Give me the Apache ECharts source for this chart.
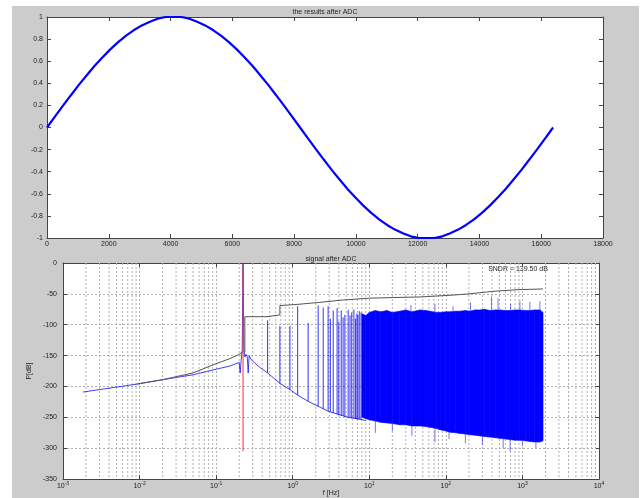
<!DOCTYPE html>
<html>
<head>
<meta charset="utf-8">
<script src="https://cdn.jsdelivr.net/npm/echarts@6/dist/echarts.min.js"></script>
<style>
  html, body { margin: 0; padding: 0; background: #fff; }
  #bg { position: absolute; left: 12px; top: 6px; width: 627px; height: 492px; background: #cccccc; }
  #app { position: absolute; left: 0; top: 0; width: 643px; height: 498px; }
</style>
</head>
<body>
<div id="bg"></div>
<div id="app"></div>
<script>
// top plot: samples after the ADC
const sampleIdx = [0, 256, 512, 768, 1024, 1280, 1536, 1792, 2048, 2304, 2560, 2816, 3072, 3328, 3584, 3840,
  4096, 4352, 4608, 4864, 5120, 5376, 5632, 5888, 6144, 6400, 6656, 6912, 7168, 7424, 7680, 7936,
  8192, 8448, 8704, 8960, 9216, 9472, 9728, 9984, 10240, 10496, 10752, 11008, 11264, 11520, 11776, 12032,
  12288, 12544, 12800, 13056, 13312, 13568, 13824, 14080, 14336, 14592, 14848, 15104, 15360, 15616, 15872, 16128, 16384];
const sampleVal = [0, 0.098, 0.195, 0.290, 0.383, 0.471, 0.556, 0.634, 0.707, 0.773, 0.831, 0.882, 0.924, 0.957, 0.985, 1,
  1, 1, 0.985, 0.957, 0.924, 0.882, 0.831, 0.773, 0.707, 0.634, 0.556, 0.471, 0.383, 0.290, 0.195, 0.098,
  0, -0.098, -0.195, -0.290, -0.383, -0.471, -0.556, -0.634, -0.707, -0.773, -0.831, -0.882, -0.924, -0.957, -0.985, -1,
  -1, -1, -0.985, -0.957, -0.924, -0.882, -0.831, -0.773, -0.707, -0.634, -0.556, -0.471, -0.383, -0.290, -0.195, -0.098, 0];

// bottom plot: spectrum, f in Hz, P in dB
const blueF = [0.00182, 0.003, 0.005, 0.0093, 0.02, 0.05, 0.1, 0.15, 0.2, 0.206, 0.212, 0.219, 0.2245, 0.23, 0.238, 0.245,
  0.255, 0.262, 0.27, 0.285, 0.32, 0.38, 0.47, 0.68, 0.92, 1.16, 1.59, 2.15, 2.9, 3.9, 5.3, 7.4, 9];
const blueP = [-209, -205, -201, -196, -189, -181, -172, -167, -161, -178, -158, -140, 0, -140, -152, -148,
  -152, -178, -150, -156, -162, -170, -178, -195, -205, -214, -224, -232, -240, -245, -250, -253, -255];

// harmonics between the tone and the noise band
const harmF = [0.47, 0.68, 0.92, 1.16, 1.59, 2.15, 2.5, 2.9, 3.1, 3.38, 3.8, 4.0, 4.3, 4.55, 4.8, 5.3, 5.6, 5.9, 6.3, 6.6, 6.9, 7.1, 7.4, 7.8];
const harmBase = [-178, -195, -205, -214, -224, -232, -236, -240, -241, -243, -245, -246, -247, -248, -249, -250, -251, -251, -252, -252, -253, -253, -253, -254];
const harmTop = [-93, -102, -102, -70, -97, -69, -72, -70, -90, -77, -73, -95, -77, -88, -84, -76, -85, -80, -75, -90, -82, -84, -78, -80];

// shaped noise band
const bandF = [8, 9, 10, 12, 14, 17, 20, 25, 30, 36, 46, 55, 62, 75, 84, 100, 113, 135, 153, 180, 206, 240, 279, 320,
  376, 440, 509, 600, 687, 800, 927, 1100, 1252, 1450, 1690, 1858];
const bandTop = [-82, -85, -80, -77, -79, -77, -80, -78, -76, -79, -76, -77, -78, -80, -80, -79, -79, -78, -78, -77, -78, -76, -76, -75,
  -77, -76, -76, -77, -77, -76, -76, -77, -77, -76, -76, -80];
const bandLow = [-250, -252, -254, -256, -258, -259, -260, -262, -262, -264, -264, -265, -266, -268, -270, -272, -274, -275, -276, -277, -278, -279, -280, -281,
  -282, -283, -284, -285, -286, -287, -287, -288, -289, -290, -290, -288];

// single peaks above and dips below the band
const peakF = [35, 72, 124, 210, 394, 480, 700, 927, 1250, 1690];
const peakP = [-68, -66, -70, -64, -55, -57, -66, -61, -63, -62];
const dipF = [12, 20, 36, 72, 110, 180, 300, 560, 690, 1000, 1500];
const dipP = [-275, -272, -280, -290, -285, -292, -295, -300, -305, -296, -300];

// black curve
const blackF = [0.0093, 0.02, 0.05, 0.1, 0.15, 0.2, 0.22, 0.237, 0.237, 0.46, 0.46, 0.68, 0.68, 1.16, 2.15, 4.5,
  10, 20, 46, 124, 200, 340, 400, 927, 1000, 1858];
const blackP = [-196, -189, -178, -163, -155, -148, -144, -144, -87, -87, -84, -84, -69, -67, -64, -60,
  -57, -56, -55, -52, -50, -47, -46, -43, -43, -42];

// input tone marker
const toneF = 0.2245;
const toneTop = 0;
const toneLow = -305;

const decades = [0.001, 0.01, 0.1, 1, 10, 100, 1000];
const minorMult = [2, 3, 4, 5, 6, 7, 8, 9];

(function () {
  const font = "'Liberation Sans', Arial, sans-serif";
  const frame = { lineStyle: { color: '#444', width: 1 }, onZero: false };
  const gridLine = { show: true, lineStyle: { color: '#b0b0b0', type: [2, 2], width: 1 } };
  const lbl = { fontFamily: font, fontSize: 7, color: '#222' };

  const zip = (a, b) => a.map((v, i) => [v, b[i]]);

  // minor log grid lines as broken vertical segments, drawn under the spectrum
  let minorData = [];
  decades.forEach(d => minorMult.forEach(m => {
    const f = +(d * m).toPrecision(3);
    minorData.push([f, 0], [f, -350], [f, '-']);
  }));

  let harmData = [];
  harmF.forEach((f, i) => { harmData.push([f, harmBase[i]], [f, harmTop[i]], [f, '-']); });

  // peaks start from the band top, dips from the band bottom
  const nearest = (f, arr) => {
    let best = 0;
    bandF.forEach((b, i) => { if (Math.abs(Math.log(b / f)) < Math.abs(Math.log(bandF[best] / f))) best = i; });
    return arr[best];
  };
  let edgeData = [];
  peakF.forEach((f, i) => { edgeData.push([f, nearest(f, bandTop)], [f, peakP[i]], [f, '-']); });
  dipF.forEach((f, i) => { edgeData.push([f, nearest(f, bandLow)], [f, dipP[i]], [f, '-']); });

  var myChart = echarts.init(document.getElementById('app'));

  let option = {
    animation: false,
    textStyle: { fontFamily: font },
    grid: [
      { left: 47, top: 17, width: 556, height: 221, show: true, backgroundColor: '#fff', borderWidth: 0 },
      { left: 63, top: 263, width: 536, height: 224, show: true, backgroundColor: '#fff', borderWidth: 0 }
    ],
    graphic: [
      { type: 'text', x: 325, y: 12, style: { text: 'the results after ADC', fontFamily: font, fontSize: 7, fill: '#222', align: 'center', verticalAlign: 'middle' } },
      { type: 'text', x: 331, y: 259, style: { text: 'signal after ADC', fontFamily: font, fontSize: 7, fill: '#222', align: 'center', verticalAlign: 'middle' } },
      { type: 'text', x: 518, y: 269, style: { text: 'SNDR = 139.50 dB', fontFamily: font, fontSize: 7, fill: '#222', align: 'center', verticalAlign: 'middle' } }
    ],
    xAxis: [
      {
        gridIndex: 0, type: 'value', min: 0, max: 18000, interval: 2000,
        axisLine: frame, axisTick: { inside: true, length: 4, lineStyle: { color: '#444' } },
        axisLabel: Object.assign({ margin: 3, formatter: v => String(v) }, lbl), splitLine: { show: false }
      },
      {
        gridIndex: 0, type: 'value', position: 'top', min: 0, max: 18000, interval: 2000,
        axisLine: frame, axisTick: { inside: true, length: 4, lineStyle: { color: '#444' } },
        axisLabel: { show: false }, splitLine: { show: false }
      },
      {
        gridIndex: 1, type: 'log', logBase: 10, min: 0.001, max: 10000, splitNumber: 7,
        name: 'f [Hz]', nameLocation: 'middle', nameGap: 10,
        nameTextStyle: { fontFamily: font, fontSize: 7, color: '#222' },
        axisLine: frame, axisTick: { inside: true, length: 4, lineStyle: { color: '#444' } },
        axisLabel: Object.assign({
          margin: 2,
          formatter: v => '10{e|' + Math.round(Math.log10(v)) + '}',
          rich: { e: { fontFamily: font, fontSize: 5, color: '#222', verticalAlign: 'top', padding: [0, 0, 4, 0] } }
        }, lbl),
        splitLine: gridLine
      },
      {
        gridIndex: 1, type: 'log', logBase: 10, position: 'top', min: 0.001, max: 10000, splitNumber: 7,
        axisLine: frame, axisTick: { inside: true, length: 4, lineStyle: { color: '#444' } },
        axisLabel: { show: false }, splitLine: { show: false }
      }
    ],
    yAxis: [
      {
        gridIndex: 0, type: 'value', min: -1, max: 1, interval: 0.2,
        axisLine: Object.assign({ show: true }, frame), axisTick: { show: true, inside: true, length: 4, lineStyle: { color: '#444' } },
        axisLabel: Object.assign({ margin: 4 }, lbl), splitLine: { show: false }
      },
      {
        gridIndex: 0, type: 'value', position: 'right', min: -1, max: 1, interval: 0.2,
        axisLine: Object.assign({ show: true }, frame), axisTick: { show: true, inside: true, length: 4, lineStyle: { color: '#444' } },
        axisLabel: { show: false }, splitLine: { show: false }
      },
      {
        gridIndex: 1, type: 'value', min: -350, max: 0, interval: 50,
        name: 'P[dB]', nameLocation: 'middle', nameGap: 24, nameRotate: 90,
        nameTextStyle: { fontFamily: font, fontSize: 7, color: '#222' },
        axisLine: Object.assign({ show: true }, frame), axisTick: { show: true, inside: true, length: 4, lineStyle: { color: '#444' } },
        axisLabel: Object.assign({ margin: 6 }, lbl), splitLine: gridLine
      },
      {
        gridIndex: 1, type: 'value', position: 'right', min: -350, max: 0, interval: 50,
        axisLine: Object.assign({ show: true }, frame), axisTick: { show: true, inside: true, length: 4, lineStyle: { color: '#444' } },
        axisLabel: { show: false }, splitLine: { show: false }
      }
    ],
    series: [
      {
        type: 'line', xAxisIndex: 0, yAxisIndex: 0,
        data: zip(sampleIdx, sampleVal), showSymbol: false,
        lineStyle: { color: '#0000ff', width: 2.2 }
      },
      {
        type: 'line', xAxisIndex: 2, yAxisIndex: 2, data: minorData, showSymbol: false, connectNulls: false,
        z: 1, silent: true,
        lineStyle: { color: '#b0b0b0', type: [2, 2], width: 1 }
      },
      {
        // noise band, filled between its upper and lower edge
        type: 'custom', xAxisIndex: 2, yAxisIndex: 2, z: 6,
        data: bandF.map((f, i) => [f, bandTop[i], bandLow[i]]),
        encode: { x: 0, y: [1, 2] },
        renderItem: function (params, api) {
          const i = params.dataIndexInside;
          if (i >= params.dataInsideLength - 1) return;
          const p1 = api.coord([api.value(0, i), api.value(1, i)]);
          const p2 = api.coord([api.value(0, i + 1), api.value(1, i + 1)]);
          const p3 = api.coord([api.value(0, i + 1), api.value(2, i + 1)]);
          const p4 = api.coord([api.value(0, i), api.value(2, i)]);
          return {
            type: 'polygon',
            shape: { points: [p1, p2, p3, p4] },
            style: { fill: '#0000ff', stroke: '#0000ff', lineWidth: 0.6 }
          };
        }
      },
      {
        type: 'line', xAxisIndex: 2, yAxisIndex: 2, data: harmData, showSymbol: false, connectNulls: false, z: 7,
        lineStyle: { color: '#0000ff', width: 1, opacity: 0.8 }
      },
      {
        type: 'line', xAxisIndex: 2, yAxisIndex: 2, data: edgeData, showSymbol: false, connectNulls: false, z: 7,
        lineStyle: { color: '#3a3aff', width: 1, opacity: 0.7 }
      },
      {
        type: 'line', xAxisIndex: 2, yAxisIndex: 2, data: zip(blueF, blueP), showSymbol: false, z: 7,
        lineStyle: { color: '#0000ff', width: 1, opacity: 0.75 }
      },
      {
        type: 'line', xAxisIndex: 2, yAxisIndex: 2, data: zip(blackF, blackP), showSymbol: false, z: 7,
        lineStyle: { color: '#555', width: 1 }
      },
      {
        type: 'line', xAxisIndex: 2, yAxisIndex: 2, showSymbol: false, z: 8,
        data: [
          { value: [toneF, toneTop], label: { show: true, position: 'top', distance: 1, formatter: 'f=0', color: '#ff0000', fontSize: 6, fontFamily: font } },
          [toneF, toneLow]
        ],
        lineStyle: { color: '#ff3030', width: 1 }
      }
    ]
  };

  myChart.setOption(option);
})();
</script>
</body>
</html>
